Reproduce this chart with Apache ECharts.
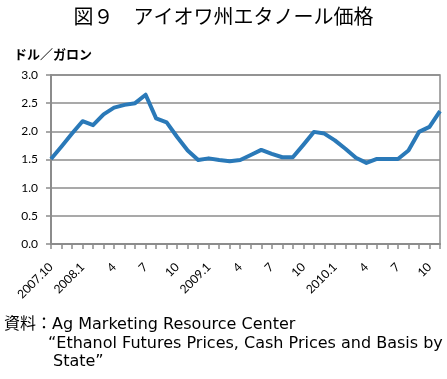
<!DOCTYPE html>
<html><head><meta charset="utf-8">
<script src="https://cdn.jsdelivr.net/npm/echarts@6/dist/echarts.min.js"></script>
<style>html,body{margin:0;padding:0;background:#fff}#c{width:447px;height:379px}</style>
</head><body><div id="c"></div>
<script>
const months = ['2007.10','2007.11','2007.12','2008.1','2008.2','2008.3','2008.4','2008.5','2008.6','2008.7','2008.8','2008.9','2008.10','2008.11','2008.12','2009.1','2009.2','2009.3','2009.4','2009.5','2009.6','2009.7','2009.8','2009.9','2009.10','2009.11','2009.12','2010.1','2010.2','2010.3','2010.4','2010.5','2010.6','2010.7','2010.8','2010.9','2010.10','2010.11'];
const tickLabels = ['2007.10','','','2008.1','','','4','','','7','','','10','','','2009.1','','','4','','','7','','','10','','','2010.1','','','4','','','7','','','10',''];
const prices = [1.51,1.73,1.96,2.18,2.11,2.30,2.42,2.47,2.50,2.65,2.23,2.16,1.90,1.66,1.49,1.52,1.49,1.47,1.49,1.58,1.67,1.60,1.54,1.54,1.76,1.99,1.96,1.84,1.69,1.53,1.44,1.51,1.51,1.51,1.66,1.99,2.08,2.36];
const title = '図９　アイオワ州エタノール価格';
const unit = 'ドル／ガロン';
const source1 = '資料：Ag Marketing Resource Center';
const source2 = '“Ethanol Futures Prices, Cash Prices and Basis by';
const source3 = 'State”';

const chart = echarts.init(document.getElementById('c'), null, {renderer:'canvas'});
const gray = '#8c8c8c';
const srcFont = '16px "DejaVu Sans", "Noto Sans CJK JP"';
chart.setOption({
  animation:false,
  backgroundColor:'#fff',
  grid:{left:51,right:7,top:75,bottom:135,show:true,borderColor:gray,borderWidth:1.5},
  xAxis:{type:'category',data:months,boundaryGap:false,
    axisLine:{lineStyle:{color:gray,width:2}},
    axisTick:{show:true,interval:0,length:5,lineStyle:{color:gray,width:1.5}},
    axisLabel:{interval:2,rotate:45,margin:21,color:'#000',fontFamily:'Lato',fontSize:12,
      formatter:(v,i)=>tickLabels[i]},
    splitLine:{show:false}},
  yAxis:{type:'value',min:0,max:3,interval:0.5,
    axisLine:{show:true,lineStyle:{color:gray,width:2}},
    axisTick:{show:true,length:5,lineStyle:{color:gray,width:1.5}},
    axisLabel:{color:'#000',fontFamily:'Lato',fontSize:12,margin:13,formatter:v=>v.toFixed(1)},
    splitLine:{lineStyle:{color:gray,width:1.5}}},
  series:[{type:'line',data:prices,showSymbol:false,symbol:'none',
    lineStyle:{color:'#2a79b8',width:4,join:'round'}}],
  graphic:[
    {type:'text',left:'center',top:6,style:{text:title,font:'20px "Noto Sans CJK JP"',fill:'#000'}},
    {type:'text',left:14,top:48,style:{text:unit,font:'bold 13px "Noto Sans CJK JP"',fill:'#000'}},
    {type:'text',left:4,top:317,style:{text:source1,font:srcFont,fill:'#000'}},
    {type:'text',left:48,top:336,style:{text:source2,font:srcFont,fill:'#000'}},
    {type:'text',left:53,top:354,style:{text:source3,font:srcFont,fill:'#000'}}
  ]
});
</script></body></html>
